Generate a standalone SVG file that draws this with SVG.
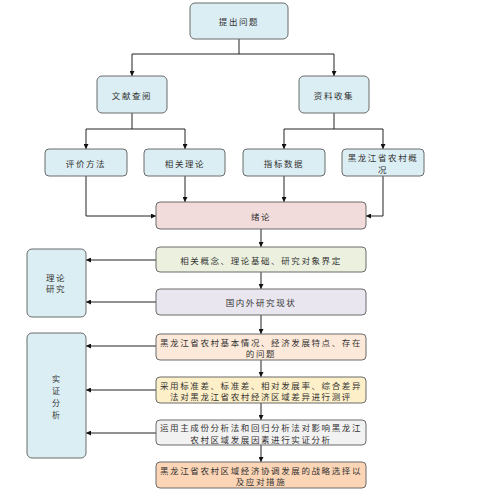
<svg xmlns="http://www.w3.org/2000/svg" width="484" height="497" viewBox="0 0 484 497">
<style>
.b{stroke:#6b6b6b;stroke-width:1}
.t{font-family:"Noto Sans CJK SC","Noto Sans CJK TC",sans-serif;font-size:8.5px;fill:#333;text-anchor:middle;dominant-baseline:central;letter-spacing:1.6px}
.v{font-size:8px;letter-spacing:0}
.c line,.c path{stroke:#222;stroke-width:1;fill:none}
.blue{fill:#dbeef4}
</style>
<defs>
<marker id="a" viewBox="0 0 6 6" refX="6" refY="3" markerWidth="5" markerHeight="5" orient="auto" markerUnits="userSpaceOnUse">
<path d="M0,0L6,3L0,6z" fill="#111"/>
</marker>
</defs>
<rect width="484" height="497" fill="#fff"/>
<g class="c">
<line x1="239" y1="39" x2="239" y2="54"/>
<path d="M132,54H334"/>
<line x1="132" y1="54" x2="132" y2="76" marker-end="url(#a)"/>
<line x1="334" y1="54" x2="334" y2="76" marker-end="url(#a)"/>
<line x1="132" y1="113" x2="132" y2="129"/>
<line x1="334" y1="113" x2="334" y2="129"/>
<path d="M86,129H185"/>
<path d="M284,129H383"/>
<line x1="86" y1="129" x2="86" y2="149" marker-end="url(#a)"/>
<line x1="185" y1="129" x2="185" y2="149" marker-end="url(#a)"/>
<line x1="284" y1="129" x2="284" y2="149" marker-end="url(#a)"/>
<line x1="383" y1="129" x2="383" y2="149" marker-end="url(#a)"/>
<path d="M86,176V216H156" marker-end="url(#a)"/>
<line x1="185" y1="176" x2="185" y2="202" marker-end="url(#a)"/>
<line x1="284" y1="176" x2="284" y2="202" marker-end="url(#a)"/>
<path d="M383,176V216H366" marker-end="url(#a)"/>
<line x1="261" y1="229" x2="261" y2="247" marker-end="url(#a)"/>
<line x1="261" y1="272" x2="261" y2="289" marker-end="url(#a)"/>
<line x1="261" y1="315" x2="261" y2="334" marker-end="url(#a)"/>
<line x1="261" y1="360" x2="261" y2="377" marker-end="url(#a)"/>
<line x1="261" y1="403" x2="261" y2="420" marker-end="url(#a)"/>
<line x1="261" y1="445" x2="261" y2="462" marker-end="url(#a)"/>
<line x1="156" y1="260" x2="86" y2="260" marker-end="url(#a)"/>
<line x1="156" y1="302" x2="86" y2="302" marker-end="url(#a)"/>
<line x1="156" y1="346" x2="86" y2="346" marker-end="url(#a)"/>
<line x1="156" y1="390" x2="86" y2="390" marker-end="url(#a)"/>
<line x1="156" y1="433" x2="86" y2="433" marker-end="url(#a)"/>
</g>
<g id="n1"><rect class="b blue" x="190" y="3" width="98" height="36" rx="5"/><text class="t" x="239" y="21">提出问题</text></g>
<g id="n2"><rect class="b blue" x="97" y="76" width="70" height="37" rx="5"/><text class="t" x="132" y="94.5">文献查阅</text></g>
<g id="n3"><rect class="b blue" x="299" y="76" width="70" height="37" rx="5"/><text class="t" x="334" y="94.5">资料收集</text></g>
<g id="n4"><rect class="b blue" x="45" y="149" width="82" height="27" rx="4"/><text class="t" x="86" y="162.5">评价方法</text></g>
<g id="n5"><rect class="b blue" x="144" y="149" width="81" height="27" rx="4"/><text class="t" x="185" y="162.5">相关理论</text></g>
<g id="n6"><rect class="b blue" x="243" y="149" width="82" height="27" rx="4"/><text class="t" x="284" y="162.5">指标数据</text></g>
<g id="n7"><rect class="b blue" x="342" y="149" width="82" height="27" rx="4"/><text class="t" x="383" y="157">黑龙江省农村概</text><text class="t" x="383" y="169">况</text></g>
<g id="n8"><rect class="b" fill="#f2dcdb" x="156" y="202" width="210" height="27" rx="4"/><text class="t" x="261" y="215.5">绪论</text></g>
<g id="n9"><rect class="b" fill="#ebf1de" x="156" y="247" width="210" height="25" rx="4"/><text class="t" x="261" y="259.5">相关概念、理论基础、研究对象界定</text></g>
<g id="n10"><rect class="b" fill="#e9e6f0" x="156" y="289" width="210" height="26" rx="4"/><text class="t" x="261" y="302">国内外研究现状</text></g>
<g id="n11"><rect class="b" fill="#fde9d9" x="156" y="334" width="210" height="26" rx="4"/><text class="t" x="261" y="341.5">黑龙江省农村基本情况、经济发展特点、存在</text><text class="t" x="261" y="353">的问题</text></g>
<g id="n12"><rect class="b" fill="#fdefc8" x="156" y="377" width="210" height="26" rx="4"/><text class="t" x="261" y="384.5">采用标准差、标准差、相对发展率、综合差异</text><text class="t" x="261" y="396">法对黑龙江省农村经济区域差异进行测评</text></g>
<g id="n13"><rect class="b" fill="#f2f2f2" x="156" y="420" width="210" height="25" rx="4"/><text class="t" x="261" y="427">运用主成份分析法和回归分析法对影响黑龙江</text><text class="t" x="261" y="438.5">农村区域发展因素进行实证分析</text></g>
<g id="n14"><rect class="b" fill="#fbd5b5" x="156" y="462" width="210" height="26" rx="4"/><text class="t" x="261" y="469.5">黑龙江省农村区域经济协调发展的战略选择以</text><text class="t" x="261" y="481">及应对措施</text></g>
<g id="n15"><rect class="b blue" x="27" y="249" width="59" height="68" rx="5"/><text class="t" x="56" y="277">理论</text><text class="t" x="56" y="288">研究</text></g>
<g id="n16"><rect class="b blue" x="27" y="333" width="59" height="125" rx="5"/><text class="t v" x="56" y="378">实</text><text class="t v" x="56" y="390">证</text><text class="t v" x="56" y="402">分</text><text class="t v" x="56" y="414">析</text></g>
</svg>
